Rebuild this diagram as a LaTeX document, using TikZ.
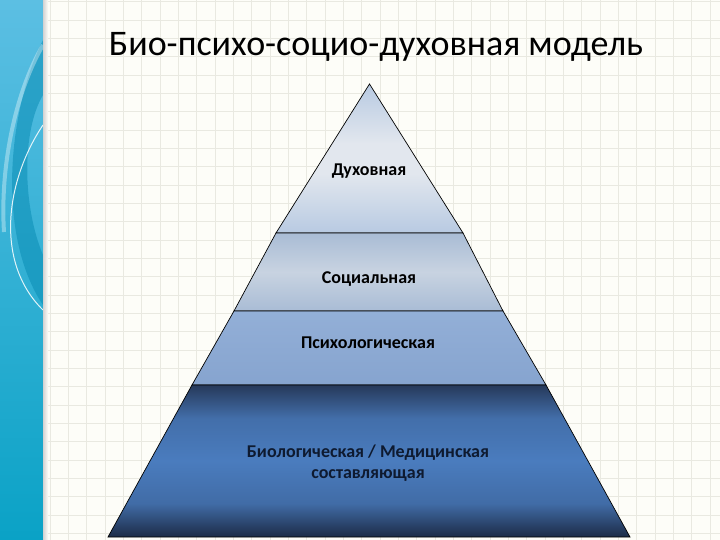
\documentclass[tikz,border=0pt]{standalone}
\usepackage{fontspec}
\setmainfont{Carlito}
\definecolor{paper}{HTML}{FDFDF8}
\definecolor{gridcol}{HTML}{E9E9E1}
\definecolor{stripTop}{HTML}{5CBFE3}
\definecolor{stripBot}{HTML}{0AA2C6}
\definecolor{stripDeep}{HTML}{0A8DB5}
\definecolor{lone}{HTML}{B8CAE2}
\definecolor{lonemid}{HTML}{E2E7EE}
\definecolor{ltwo}{HTML}{A9BCD5}
\definecolor{ltwomid}{HTML}{C8D3E1}
\definecolor{lthree}{HTML}{93AFD7}
\definecolor{lthreebot}{HTML}{86A4CF}
\definecolor{lfourtop}{HTML}{26395A}
\definecolor{lfourmid}{HTML}{4A7CBE}
\definecolor{lfourbot}{HTML}{1C2B47}
\definecolor{navytext}{HTML}{0E1A30}
\pgfdeclareverticalshading{oneshade}{100bp}{color(0bp)=(lone); color(25bp)=(lone);
  color(45bp)=(lonemid); color(55bp)=(lonemid); color(75bp)=(lone); color(100bp)=(lone)}
\pgfdeclareverticalshading{twoshade}{100bp}{color(0bp)=(ltwo); color(25bp)=(ltwo);
  color(50bp)=(ltwomid); color(75bp)=(ltwo); color(100bp)=(ltwo)}
\pgfdeclareverticalshading{threeshade}{100bp}{color(0bp)=(lthreebot); color(25bp)=(lthreebot);
  color(75bp)=(lthree); color(100bp)=(lthree)}
\pgfdeclareverticalshading{fourshade}{100bp}{color(0bp)=(lfourbot); color(25bp)=(lfourbot);
  color(36bp)=(lfourmid!80!lfourbot); color(50bp)=(lfourmid); color(64bp)=(lfourmid!80!lfourtop);
  color(75bp)=(lfourtop); color(100bp)=(lfourtop)}

\begin{document}
\begin{tikzpicture}[x=1pt,y=-1pt,
  gridline/.style={draw=gridcol,line width=0.7pt},
  layer/.style={draw=black,line width=0.7pt},
  lbl/.style={font=\fontsize{18}{21}\selectfont\bfseries,text=black,align=center,anchor=base},
  heading/.style={font=\fontsize{36}{40}\selectfont,text=black,anchor=base}]
\useasboundingbox (0,0) rectangle (720,540);
\fill[paper] (0,0) rectangle (720,540);
\foreach \i in {0,...,36}
  \draw[gridline] ({50+18.33*\i},0) -- ({50+18.33*\i},540);
\foreach \j in {0,...,29}
  \draw[gridline] (45,{1.7+18.33*\j}) -- (720,{1.7+18.33*\j});

\shade[top color=stripTop,bottom color=stripBot] (0,0) rectangle (43,540);
\fill[stripDeep,opacity=0.55] (43,40) .. controls (8,110) and (-4,235) .. (43,305)
  -- (43,255) .. controls (22,205) and (22,130) .. (43,95) -- cycle;
\draw[white,opacity=0.35,line width=4pt] (43,45) .. controls (14,95) and (0,170) .. (4,232);
\draw[white,opacity=0.85,line width=1pt] (43,125) .. controls (6,180) and (-6,262) .. (43,310);
\shade[left color=gray!35,right color=paper] (43,0) rectangle (48,540);

\node[heading] (title) at (376,56) {Био-психо-социо-духовная модель};

\shadedraw[layer,shading=oneshade]
  (369.5,84) -- (463,233) -- (276,233) -- cycle;
\shadedraw[layer,shading=twoshade]
  (276,233) -- (463,233) -- (503,311) -- (234,311) -- cycle;
\shadedraw[layer,shading=threeshade]
  (234,311) -- (503,311) -- (546,385) -- (192,385) -- cycle;
\shadedraw[layer,shading=fourshade]
  (192,385) -- (546,385) -- (630,537) -- (108,537) -- cycle;

\node[lbl] (spirit) at (369,176) {Духовная};
\node[lbl] (social) at (369,283) {Социальная};
\node[lbl] (psych) at (368,348) {Психологическая};
\node[lbl,text=navytext] (bio) at (368,478) {Биологическая / Медицинская\\составляющая};

\end{tikzpicture}
\end{document}
